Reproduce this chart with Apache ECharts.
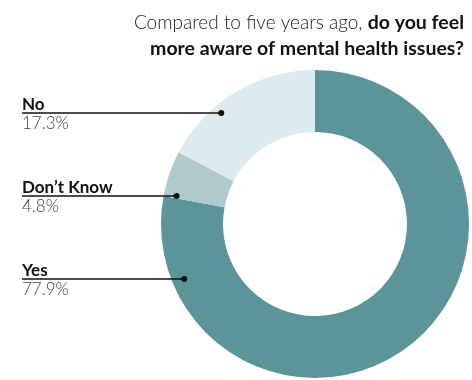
<!DOCTYPE html>
<html>
<head>
<meta charset="utf-8">
<script src="https://cdn.jsdelivr.net/npm/echarts@6/dist/echarts.min.js"></script>
<style>
  html, body { margin: 0; padding: 0; background: #fff; }
  #chart { width: 472px; height: 380px; }
</style>
</head>
<body>
<div id="chart"></div>
<script>
// answers, clockwise from 12 o'clock
const categories = ['Yes', 'Don’t Know', 'No'];
const shares = [77.9, 4.8, 17.3];
const sliceColors = ['#5b9499', '#aecacd', '#ddeaf0'];

const chart = echarts.init(document.getElementById('chart'));
const cx = 315, cy = 224, rOut = 154, rIn = 92;
const labelX = 22;
const labelY = [279, 196, 113]; // y of each leader line
const font = 'Lato, "Open Sans", sans-serif';

// dot sits a little inside the outer edge, on the leader line
function dotX(i) {
  const dy = labelY[i] - cy;
  return cx - Math.sqrt(rOut * rOut - dy * dy) + 13;
}

const leaders = [];
categories.forEach((c, i) => {
  leaders.push({
    type: 'line',
    shape: { x1: labelX, y1: labelY[i], x2: dotX(i), y2: labelY[i] },
    style: { stroke: '#111', lineWidth: 1.5 },
    z: 100
  });
  leaders.push({
    type: 'circle',
    shape: { cx: dotX(i), cy: labelY[i], r: 3 },
    style: { fill: '#111' },
    z: 100
  });
});

const option = {
  animation: false,
  title: {
    text: '{l|Compared to five years ago, }{b|do you feel}\n{b|more aware of mental health issues?}',
    right: 3,
    top: 5,
    textStyle: {
      rich: {
        l: { fontFamily: font, fontWeight: 300, fontSize: 19, color: '#222', lineHeight: 26, align: 'right' },
        b: { fontFamily: font, fontWeight: 'bold', fontSize: 19.5, color: '#111', lineHeight: 26, align: 'right' }
      }
    }
  },
  series: [{
    type: 'pie',
    center: [cx, cy],
    radius: [rIn, rOut],
    startAngle: 90,
    clockwise: true,
    avoidLabelOverlap: false,
    emphasis: { disabled: true },
    data: categories.map((c, i) => ({
      name: c,
      value: shares[i],
      itemStyle: { color: sliceColors[i] }
    })),
    label: {
      show: true,
      position: 'outside',
      formatter: p => '{n|' + p.name + '}\n{p|' + shares[p.dataIndex].toFixed(1) + '%}',
      rich: {
        n: { fontFamily: font, fontWeight: 'bold', fontSize: 17, color: '#111', lineHeight: 19, align: 'left' },
        p: { fontFamily: font, fontWeight: 300, fontSize: 17, color: '#444', lineHeight: 19, align: 'left' }
      }
    },
    labelLine: { show: false },
    labelLayout: p => ({
      x: labelX,
      y: labelY[p.dataIndex] + 1,
      align: 'left',
      verticalAlign: 'middle',
      hideOverlap: false
    })
  }],
  graphic: leaders
};
chart.setOption(option);
</script>
</body>
</html>
